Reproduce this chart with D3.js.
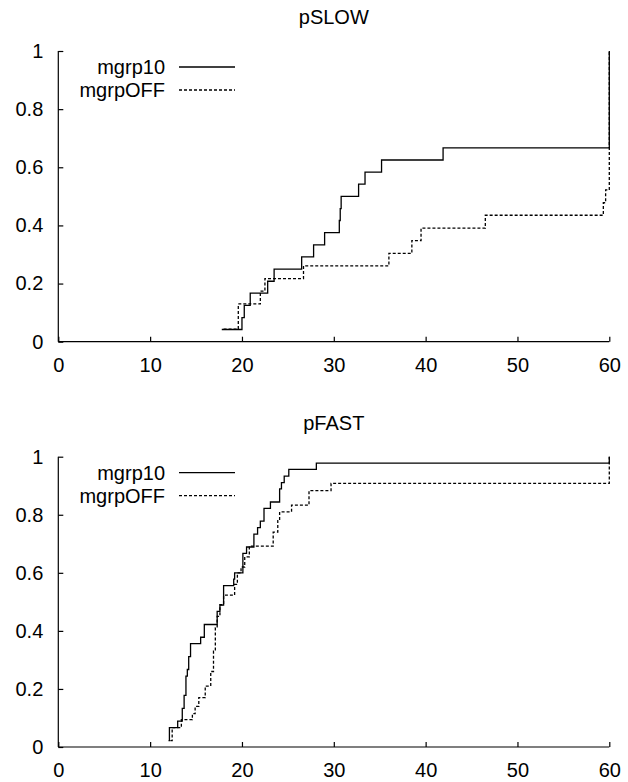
<!DOCTYPE html>
<html>
<head>
<meta charset="utf-8">
<script src="https://d3js.org/d3.v7.min.js"></script>
<title>pSLOW / pFAST</title>
<style>
body { margin: 0; background: #fff; }
text { font-family: "Liberation Sans", Arial, sans-serif; }
</style>
</head>
<body>
<script>

var width = 628,
    height = 782;

var xTicks = [0, 10, 20, 30, 40, 50, 60];
var yTicks = [0, 0.2, 0.4, 0.6, 0.8, 1];
var seriesNames = ["mgrp10", "mgrpOFF"];

// pSLOW
var slowX10  = [17.8, 20.0, 20.25, 20.9, 22.8, 23.5, 26.5, 27.8, 29.0, 30.6, 30.7, 30.8, 32.7, 33.4, 35.2, 41.9, 60];
var slowY10  = [0.042, 0.083, 0.125, 0.167, 0.208, 0.25, 0.292, 0.333, 0.375, 0.417, 0.458, 0.5, 0.542, 0.583, 0.625, 0.667, 1];
var slowXOff = [18.0, 19.6, 22.0, 22.5, 26.7, 36.0, 38.5, 39.5, 46.5, 59.35, 59.6, 60];
var slowYOff = [0.043, 0.13, 0.174, 0.217, 0.261, 0.304, 0.348, 0.391, 0.435, 0.478, 0.522, 1];

// pFAST
var fastX10  = [12.0, 12.1, 13.0, 13.5, 13.7, 13.9, 14.05, 14.2, 14.4, 15.5, 15.9, 17.3, 17.6, 18.0, 19.1, 19.2, 20.1, 20.5, 21.3, 21.7, 22.0, 22.4, 23.1, 24.1, 24.3, 24.6, 25.1, 28.1, 60];
var fastY10  = [0.022, 0.067, 0.089, 0.133, 0.178, 0.244, 0.267, 0.311, 0.356, 0.378, 0.422, 0.467, 0.489, 0.556, 0.578, 0.6, 0.667, 0.689, 0.733, 0.756, 0.778, 0.822, 0.844, 0.889, 0.911, 0.933, 0.956, 0.978, 1];
var fastXOff = [12.2, 12.4, 13.4, 14.6, 14.9, 15.3, 16.0, 16.6, 16.9, 17.1, 17.3, 17.6, 18.0, 19.2, 19.5, 19.9, 20.3, 20.8, 23.4, 23.9, 24.1, 25.4, 27.3, 29.7, 60];
var fastYOff = [0.022, 0.067, 0.094, 0.115, 0.14, 0.17, 0.21, 0.26, 0.33, 0.41, 0.45, 0.49, 0.523, 0.56, 0.6, 0.62, 0.655, 0.692, 0.74, 0.78, 0.81, 0.833, 0.883, 0.908, 1];

var svg = d3.select("body")
  .append("svg")
  .attr("width", width)
  .attr("height", height);

var x = d3.scaleLinear().domain([0, 60]).range([58.3, 609.3]);
var fontSize = 20;

function zip(xs, ys) {
  return xs.map(function(v, i) { return [v, ys[i]]; });
}

function panel(title, top, bottom, lines) {
  var y = d3.scaleLinear().domain([0, 1]).range([bottom, top]);
  var g = svg.append("g");

  g.append("text")
    .attr("x", (x.range()[0] + x.range()[1]) / 2)
    .attr("y", top - 27)
    .attr("text-anchor", "middle")
    .attr("font-size", fontSize)
    .text(title);

  var yAxis = g.append("g")
    .attr("transform", "translate(" + x.range()[0] + ",0)")
    .call(d3.axisRight(y).tickValues(yTicks).tickSize(5).tickFormat(d3.format("")));
  yAxis.select(".domain").attr("d", "M0," + top + "V" + bottom);
  yAxis.selectAll("text")
    .attr("x", -15)
    .attr("text-anchor", "end")
    .attr("font-size", fontSize)
    .attr("font-family", "Liberation Sans, Arial, sans-serif")
    .attr("fill", "#000");

  var xAxis = g.append("g")
    .attr("transform", "translate(0," + bottom + ")")
    .call(d3.axisTop(x).tickValues(xTicks).tickSize(5));
  xAxis.select(".domain").attr("d", "M" + x.range()[0] + ",0H" + x.range()[1]);
  xAxis.selectAll("text")
    .attr("y", 30)
    .attr("font-size", fontSize)
    .attr("font-family", "Liberation Sans, Arial, sans-serif")
    .attr("fill", "#000");
  g.selectAll(".domain, .tick line").attr("stroke", "#000").attr("stroke-width", 1.2);

  var line = d3.line()
    .x(function(d) { return x(d[0]); })
    .y(function(d) { return y(d[1]); })
    .curve(d3.curveStepAfter);

  lines.forEach(function(s, i) {
    g.append("path")
      .attr("d", line(zip(s.xs, s.ys)))
      .attr("fill", "none")
      .attr("stroke", "#000")
      .attr("stroke-width", 1.3)
      .attr("stroke-dasharray", i === 1 ? "3,2" : null);

    var ly = top + 16 + i * 23;
    g.append("text")
      .attr("x", 165)
      .attr("y", ly + 7)
      .attr("text-anchor", "end")
      .attr("font-size", fontSize)
      .text(seriesNames[i]);
    g.append("line")
      .attr("x1", 179).attr("x2", 235)
      .attr("y1", ly).attr("y2", ly)
      .attr("stroke", "#000")
      .attr("stroke-width", 1.3)
      .attr("stroke-dasharray", i === 1 ? "3,2" : null);
  });
}

panel("pSLOW", 51, 341.7, [{xs: slowX10, ys: slowY10}, {xs: slowXOff, ys: slowYOff}]);
panel("pFAST", 456.7, 747, [{xs: fastX10, ys: fastY10}, {xs: fastXOff, ys: fastYOff}]);

</script>
</body>
</html>
